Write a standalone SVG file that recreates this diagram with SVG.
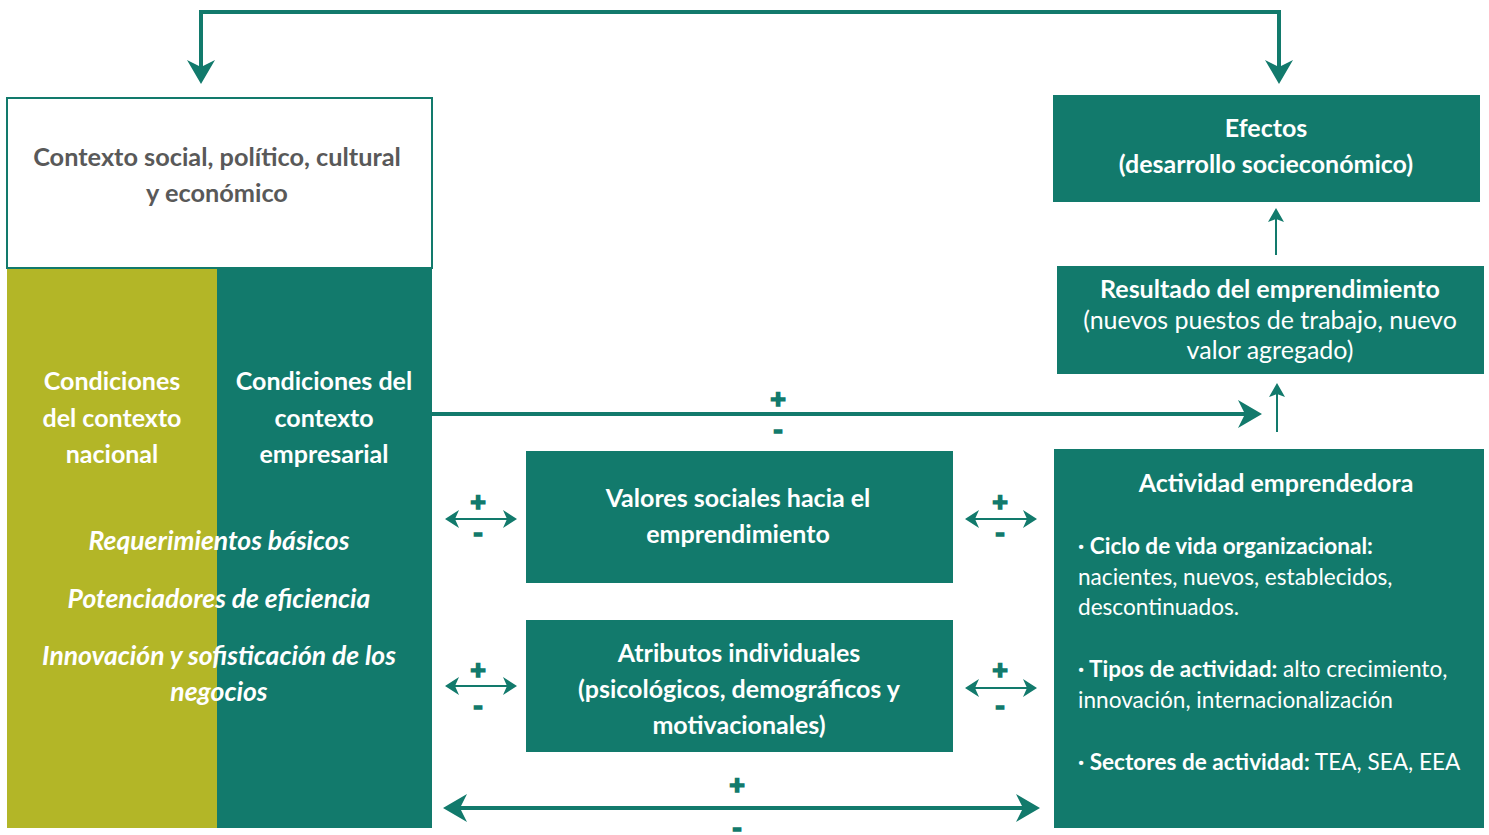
<svg xmlns="http://www.w3.org/2000/svg" width="1489" height="835" viewBox="0 0 1489 835">
<style>
text{font-family:Lato,"Open Sans","Liberation Sans",sans-serif;}
.w{fill:#ffffff;font-weight:bold;font-size:25px;text-anchor:middle;}
.wr{fill:#ffffff;font-size:25px;text-anchor:middle;}
.wi{fill:#ffffff;font-weight:bold;font-style:italic;font-size:26.5px;text-anchor:middle;}
.wl{fill:#ffffff;font-size:22.6px;}
.g{fill:#595959;font-weight:bold;font-size:25.3px;text-anchor:middle;}
.box{fill:#127A6C;}
.sign{fill:#127A6C;stroke:#127A6C;stroke-width:1.6;font-weight:900;font-size:27px;text-anchor:middle;}
.thick{fill:none;stroke:#127A6C;stroke-width:4;}
.thin{fill:none;stroke:#127A6C;stroke-width:2;}
</style>
<defs>
<marker id="big" markerUnits="userSpaceOnUse" markerWidth="24" markerHeight="28" refX="7" refY="14" orient="auto-start-reverse" viewBox="0 0 24 28">
<path d="M0,0 L24,14 L0,28 L7,14 z" fill="#127A6C"/>
</marker>
<marker id="small" markerUnits="userSpaceOnUse" markerWidth="14" markerHeight="18" refX="4" refY="9" orient="auto-start-reverse" viewBox="0 0 14 18">
<path d="M0,0 L14,9 L0,18 L4,9 z" fill="#127A6C"/>
</marker>
<marker id="up" markerUnits="userSpaceOnUse" markerWidth="14" markerHeight="16" refX="3" refY="8" orient="auto" viewBox="0 0 14 16">
<path d="M0,0 L14,8 L0,16 L3,8 z" fill="#127A6C"/>
</marker>
</defs>

<g id="contexto">
<rect x="7" y="98" width="425" height="170" fill="#ffffff" stroke="#127A6C" stroke-width="2"/>
<text class="g" x="217" y="166">Contexto social, político, cultural</text>
<text class="g" x="217" y="202">y económico</text>
</g>

<g id="condiciones-nacional">
<rect x="7" y="269" width="210" height="559" fill="#B3B627"/>
</g>
<g id="condiciones-empresarial">
<rect x="217" y="269" width="215" height="559" fill="#127A6C"/>
</g>
<g id="condiciones-texto">
<text class="w" x="112" y="390">Condiciones</text>
<text class="w" x="112" y="427">del contexto</text>
<text class="w" x="112" y="463">nacional</text>
<text class="w" x="324" y="390">Condiciones del</text>
<text class="w" x="324" y="427">contexto</text>
<text class="w" x="324" y="463">empresarial</text>
<text class="wi" x="219" y="550">Requerimientos básicos</text>
<text class="wi" x="219" y="608">Potenciadores de eficiencia</text>
<text class="wi" x="219" y="665">Innovación y sofisticación de los</text>
<text class="wi" x="219" y="701">negocios</text>
</g>

<g id="efectos">
<rect class="box" x="1053" y="95" width="427" height="107"/>
<text class="w" x="1266" y="137">Efectos</text>
<text class="w" x="1266" y="173">(desarrollo socieconómico)</text>
</g>

<g id="resultado">
<rect class="box" x="1057" y="266" width="427" height="108"/>
<text class="w" x="1270" y="298">Resultado del emprendimiento</text>
<text class="wr" x="1270" y="329">(nuevos puestos de trabajo, nuevo</text>
<text class="wr" x="1270" y="359">valor agregado)</text>
</g>

<g id="valores">
<rect class="box" x="526" y="451" width="427" height="132"/>
<text class="w" x="738" y="507">Valores sociales hacia el</text>
<text class="w" x="738" y="543">emprendimiento</text>
</g>

<g id="atributos">
<rect class="box" x="526" y="620" width="427" height="132"/>
<text class="w" x="739" y="662">Atributos individuales</text>
<text class="w" x="739" y="698">(psicológicos, demográficos y</text>
<text class="w" x="739" y="734">motivacionales)</text>
</g>

<g id="actividad">
<rect class="box" x="1054" y="449" width="430" height="379"/>
<text class="w" x="1276" y="492">Actividad emprendedora</text>
<text class="wl" x="1078" y="554"><tspan font-weight="bold">· Ciclo de vida organizacional:</tspan></text>
<text class="wl" x="1078" y="585">nacientes, nuevos, establecidos,</text>
<text class="wl" x="1078" y="615">descontinuados.</text>
<text class="wl" x="1078" y="677"><tspan font-weight="bold">· Tipos de actividad:</tspan> alto crecimiento,</text>
<text class="wl" x="1078" y="708">innovación, internacionalización</text>
<text class="wl" x="1078" y="770"><tspan font-weight="bold">· Sectores de actividad:</tspan> TEA, SEA, EEA</text>
</g>

<g id="connectors">
<path class="thick" d="M201,67 V12 H1279 V67" marker-start="url(#big)" marker-end="url(#big)"/>
<path class="thick" d="M432,414 H1245" marker-end="url(#big)"/>
<path class="thin" d="M1276,255 V219" marker-end="url(#up)"/>
<path class="thin" d="M1277,432 V394" marker-end="url(#up)"/>
<path class="thin" d="M455,519 H507" marker-start="url(#small)" marker-end="url(#small)"/>
<path class="thin" d="M975,519 H1027" marker-start="url(#small)" marker-end="url(#small)"/>
<path class="thin" d="M455,686 H507" marker-start="url(#small)" marker-end="url(#small)"/>
<path class="thin" d="M975,688 H1027" marker-start="url(#small)" marker-end="url(#small)"/>
<path class="thick" d="M460,808 H1023" marker-start="url(#big)" marker-end="url(#big)"/>
<text class="sign" x="778" y="408">+</text>
<text class="sign" x="778" y="440">-</text>
<text class="sign" x="478" y="511">+</text>
<text class="sign" x="478" y="543">-</text>
<text class="sign" x="1000" y="511">+</text>
<text class="sign" x="1000" y="543">-</text>
<text class="sign" x="478" y="679">+</text>
<text class="sign" x="478" y="716">-</text>
<text class="sign" x="1000" y="679">+</text>
<text class="sign" x="1000" y="716">-</text>
<text class="sign" x="737" y="794">+</text>
<text class="sign" x="737" y="838">-</text>
</g>
</svg>
